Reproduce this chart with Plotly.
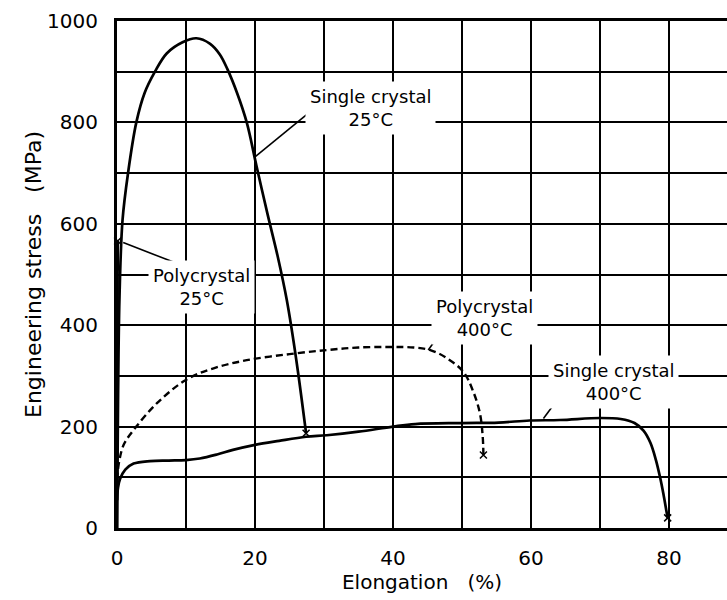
import plotly.graph_objects as go

# ---- data ----
sc25_x = [0, 0.15, 0.35, 0.8, 1.6, 2.8, 4.0, 5.5, 7.2, 9.5, 11.5, 13.5, 14.9, 16.0, 17.4, 18.8, 20.2, 21.8, 23.3, 24.6, 26.0, 27.4]
sc25_y = [0, 250, 450, 607, 700, 800, 858, 900, 936, 958, 966, 955, 934, 905, 858, 800, 715, 620, 535, 450, 330, 187]

pc25_x = [0, 0.05, 0.1]
pc25_y = [0, 300, 566]

pc400_x = [0, 0.3, 1.0, 2.8, 6.0, 10.1, 14.0, 18.8, 25.0, 30.4, 35.0, 40.0, 43.0, 45.4, 47.8, 50.2, 51.6, 52.6, 53.0, 53.1]
pc400_y = [95, 130, 165, 200, 249, 293, 315, 331, 343, 351, 356, 357, 356, 351, 335, 308, 270, 226, 180, 144]

sc400_x = [0, 0.15, 0.45, 1.2, 2.4, 4.8, 7.5, 10.0, 12.0, 14.5, 16.8, 20.0, 23.5, 27.4, 30.4, 35.0, 40.0, 43.2,
           50.0, 55.3, 59.8, 64.2, 70.0, 73.0, 75.0, 76.3, 77.3, 78.1, 78.7, 79.2, 79.6, 79.8]
sc400_y = [55, 80, 97, 115, 127, 132, 133, 134, 137, 145, 154, 164, 172, 180, 183, 190, 200, 205,
           207, 208, 212, 213, 217, 215, 207, 192, 168, 134, 100, 66, 35, 20]

# end-of-curve fracture markers
end_x = [0.1, 27.4, 53.1, 79.8]
end_y = [566, 187, 144, 20]

x_ticks = [0, 20, 40, 60, 80]
y_ticks = [0, 200, 400, 600, 800, 1000]

labels = ["Single crystal<br>25\u00b0C", "Polycrystal<br>25\u00b0C",
          "Polycrystal<br>400\u00b0C", "Single crystal<br>400\u00b0C"]
label_x = [36.7, 12.2, 53.3, 72.0]
label_y = [828, 475, 414, 288]
# leader lines: (tail x, tail y, head x, head y)
lead_x0 = [28.9, 8.65, 48.3, 65.4]
lead_y0 = [831, 522, 410, 282]
lead_x1 = [20.0, 0.9, 45.1, 61.8]
lead_y1 = [732, 563, 351, 216]

FONT = "DejaVu Sans"

fig = go.Figure()
line_style = dict(color="black", width=2.7, shape="spline", smoothing=1.0)
fig.add_trace(go.Scatter(x=sc25_x, y=sc25_y, mode="lines", line=line_style, cliponaxis=False))
fig.add_trace(go.Scatter(x=pc25_x, y=pc25_y, mode="lines", line=dict(color="black", width=2.7), cliponaxis=False))
fig.add_trace(go.Scatter(x=pc400_x, y=pc400_y, mode="lines",
                         line=dict(color="black", width=2.4, shape="spline", smoothing=1.0, dash="7px,4px"),
                         cliponaxis=False))
fig.add_trace(go.Scatter(x=sc400_x, y=sc400_y, mode="lines", line=line_style, cliponaxis=False))
fig.add_trace(go.Scatter(x=end_x, y=end_y, mode="markers",
                         marker=dict(symbol="x-thin", size=7, line=dict(color="black", width=1.5)),
                         cliponaxis=False))

for i in range(len(labels)):
    fig.add_shape(type="line", x0=lead_x0[i], y0=lead_y0[i], x1=lead_x1[i], y1=lead_y1[i],
                  xref="x", yref="y", line=dict(color="black", width=1.6), layer="above")
    fig.add_annotation(x=label_x[i], y=label_y[i], text=labels[i], showarrow=False,
                       font=dict(family=FONT, size=18, color="black"),
                       bgcolor="white", borderpad=4, align="center")

fig.update_layout(
    width=727, height=600,
    margin=dict(l=117, r=0, t=21, b=72),
    paper_bgcolor="white", plot_bgcolor="white",
    showlegend=False,
    font=dict(family=FONT, size=20, color="black"),
)
fig.update_xaxes(
    range=[0, 88.4], tickmode="array", tickvals=x_ticks, ticktext=[str(v) for v in x_ticks],
    showgrid=True, gridcolor="black", gridwidth=1.5,
    minor=dict(dtick=10, tick0=0, showgrid=True, gridcolor="black", gridwidth=1.5),
    showline=True, linecolor="black", linewidth=3, mirror=True, zeroline=False,
    ticks="", ticklabelstandoff=10,
    title=dict(text="Elongation\u00a0\u00a0 (%)", font=dict(family=FONT, size=20), standoff=0),
)
fig.update_yaxes(
    range=[0, 1000], tickmode="array", tickvals=y_ticks, ticktext=[str(v) for v in y_ticks],
    showgrid=True, gridcolor="black", gridwidth=1.5,
    minor=dict(dtick=100, tick0=0, showgrid=True, gridcolor="black", gridwidth=1.5),
    showline=True, linecolor="black", linewidth=3, mirror=False, zeroline=False,
    ticks="", ticklabelstandoff=12,
    title=dict(text="Engineering stress\u00a0\u00a0 (MPa)", font=dict(family=FONT, size=22), standoff=0),
)

fig.write_html("out.html")
